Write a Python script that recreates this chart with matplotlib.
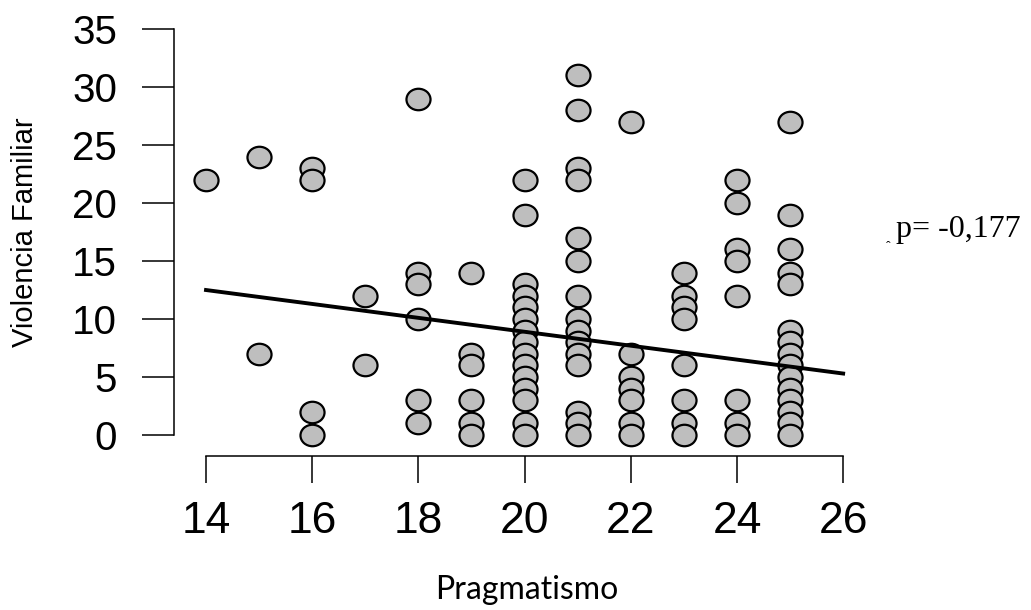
import numpy as np
import matplotlib.pyplot as plt
from matplotlib.path import Path

# data (Pragmatismo -> Violencia Familiar)
x14 = [22]
x15 = [24, 7]
x16 = [23, 22, 2, 0]
x17 = [12, 6]
x18 = [29, 14, 13, 10, 3, 1]
x19 = [14, 7, 6, 3, 1, 0]
x20 = [22, 19, 13, 12, 11, 10, 9, 8, 7, 6, 5, 4, 3, 1, 0]
x21 = [31, 28, 23, 22, 17, 15, 12, 10, 9, 8, 7, 6, 2, 1, 0]
x22 = [27, 7, 5, 4, 3, 1, 0]
x23 = [14, 12, 11, 10, 6, 3, 1, 0]
x24 = [22, 20, 16, 15, 12, 3, 1, 0]
x25 = [27, 19, 16, 14, 13, 9, 8, 7, 6, 5, 4, 3, 2, 1, 0]

groups = {14: x14, 15: x15, 16: x16, 17: x17, 18: x18, 19: x19,
          20: x20, 21: x21, 22: x22, 23: x23, 24: x24, 25: x25}
px = np.concatenate([[k] * len(v) for k, v in groups.items()]).astype(float)
py = np.concatenate([v for v in groups.values()]).astype(float)

# regression line as drawn in the reference (many points overlap, so
# it is read off the picture rather than refit)
trend_x = [14, 26]
trend_y = [12.5, 5.3]

x_ticks = [14, 16, 18, 20, 22, 24, 26]
y_ticks = [0, 5, 10, 15, 20, 25, 30, 35]
corr_label = "p= -0,177"

# slightly wide ellipse marker, like the stretched original
circ = Path.unit_circle()
ell = Path(circ.vertices * [1.12, 1.0], circ.codes)

fig = plt.figure(figsize=(10.31, 6.10), dpi=100)
ax = fig.add_axes([174 / 1031, 154 / 610, 701 / 1031, 436 / 610])

ax.scatter(px, py, marker=ell, s=300, facecolor='#bebebe',
           edgecolor='black', linewidth=1.6, zorder=2)
ax.plot(trend_x, trend_y, color='black', linewidth=2.8, zorder=3)

ax.set_xlim(13.397, 26.60)
ax.set_ylim(-1.81, 35.78)
ax.set_xticks(x_ticks)
ax.set_yticks(y_ticks)
ax.set_xticklabels([str(t) for t in x_ticks], fontsize=32, family='Liberation Sans')
ax.set_yticklabels([str(t) for t in y_ticks], fontsize=29, family='Liberation Sans')

for s in ['top', 'right']:
    ax.spines[s].set_visible(False)
ax.spines['left'].set_bounds(0, 35)
ax.spines['bottom'].set_bounds(14, 26)
ax.spines['left'].set_linewidth(1.1)
ax.spines['bottom'].set_linewidth(1.1)
ax.tick_params(axis='y', length=23, width=1.1, pad=18)
ax.tick_params(axis='x', length=19.5, width=1.1, pad=13)

fig.text(25 / 1031, 1 - 232 / 610, 'Violencia Familiar', rotation=90,
         ha='center', va='center', fontsize=21, family='Liberation Sans')
fig.text(527 / 1031, 1 - 590 / 610, 'Pragmatismo',
         ha='center', va='center', fontsize=23, family='Lato')
fig.text(958 / 1031, 1 - 229 / 610, corr_label,
         ha='center', va='center', fontsize=23, family='Liberation Serif')
fig.text(888 / 1031, 1 - 247 / 610, '\u02c6',
         ha='center', va='center', fontsize=10, family='Liberation Serif')

fig.savefig('out.png', dpi=100)
